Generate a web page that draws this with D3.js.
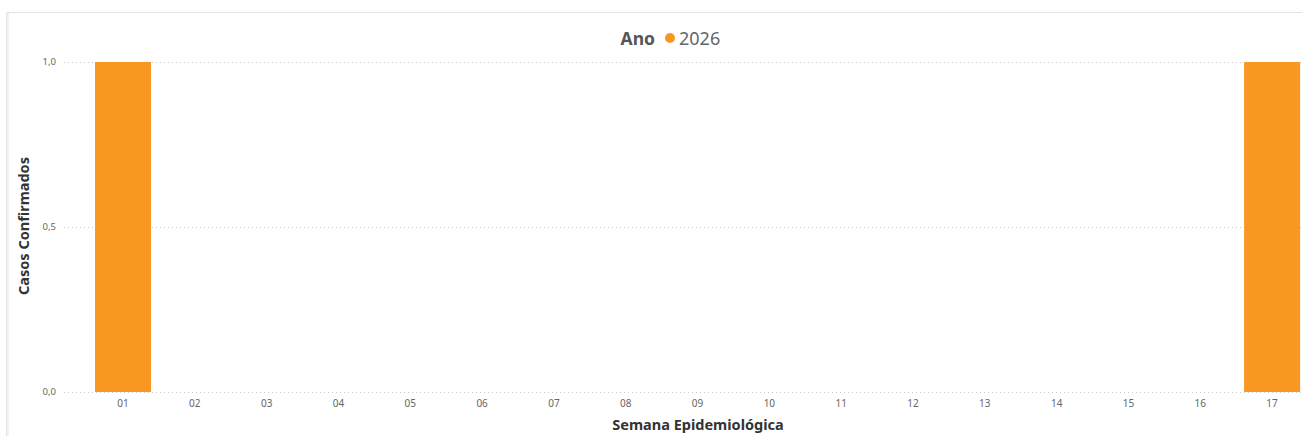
<!DOCTYPE html>
<html><head><meta charset="utf-8">
<script src="https://cdn.jsdelivr.net/npm/d3@7"></script>
<style>
html,body{margin:0;padding:0;background:#fff;overflow:hidden;}
svg{display:block;font-family:"Segoe UI","Noto Sans","Open Sans",sans-serif;}
</style></head><body>
<svg id="c" width="1302" height="436"></svg>
<script>
const weeks = ["01","02","03","04","05","06","07","08","09","10","11","12","13","14","15","16","17"];
const cases2026 = [1,0,0,0,0,0,0,0,0,0,0,0,0,0,0,0,1];
const yTicks = [0, 0.5, 1];
const yTickLabels = ["0,0","0,5","1,0"];
const seriesName = "2026";
const legendTitle = "Ano";
const xTitle = "Semana Epidemiológica";
const yTitle = "Casos Confirmados";

const svg = d3.select("#c");
// card
svg.append("rect").attr("x",6.5).attr("y",12.5).attr("width",1310).attr("height",440)
  .attr("fill","#fff").attr("stroke","#e3e3e3");
svg.append("line").attr("x1",8).attr("x2",8).attr("y1",13).attr("y2",436).attr("stroke","#f2f2f2").attr("stroke-width",2);

const x = d3.scaleBand().domain(weeks).range([87.1,1308]).paddingInner(0.22).paddingOuter(0.11);
const y = d3.scaleLinear().domain([0,1]).range([392,62]);

// gridlines
svg.append("g").selectAll("line").data(yTicks).join("line")
  .attr("x1",64).attr("x2",1302).attr("y1",d=>y(d)+0.5).attr("y2",d=>y(d)+0.5)
  .attr("stroke","#c8c8c8").attr("stroke-dasharray","1,3");

// y tick labels
svg.append("g").selectAll("text").data(yTicks).join("text")
  .attr("x",56).attr("y",d=>y(d)).attr("dy","0.35em").attr("text-anchor","end")
  .attr("font-size",9.5).attr("fill","#666").text((d,i)=>yTickLabels[i]);

// bars
svg.append("g").selectAll("rect").data(weeks).join("rect")
  .attr("x",d=>x(d)).attr("width",x.bandwidth())
  .attr("y",(d,i)=>y(cases2026[i])).attr("height",(d,i)=>y(0)-y(cases2026[i]))
  .attr("fill","#F89822");

// x axis
const xa = svg.append("g").attr("transform","translate(0,392)").call(d3.axisBottom(x).tickSize(0).tickPadding(8));
xa.select(".domain").remove();
xa.selectAll("text").attr("font-size",10).attr("fill","#666").attr("font-family","Segoe UI, Noto Sans, sans-serif");

// titles
svg.append("text").attr("x",698).attr("y",430).attr("text-anchor","middle")
  .attr("font-size",14.5).attr("font-weight","bold").attr("fill","#333").text(xTitle);
svg.append("text").attr("transform","translate(29,226) rotate(-90)").attr("text-anchor","middle")
  .attr("font-size",14.5).attr("font-weight","bold").attr("fill","#333").text(yTitle);

// legend
svg.append("text").attr("x",655).attr("y",45).attr("text-anchor","end")
  .attr("font-size",17.5).attr("font-weight","bold").attr("fill","#555").text(legendTitle);
svg.append("circle").attr("cx",670).attr("cy",38).attr("r",5).attr("fill","#F89822");
svg.append("text").attr("x",679).attr("y",45)
  .attr("font-size",18).attr("fill","#666").text(seriesName);
</script>
</body></html>
